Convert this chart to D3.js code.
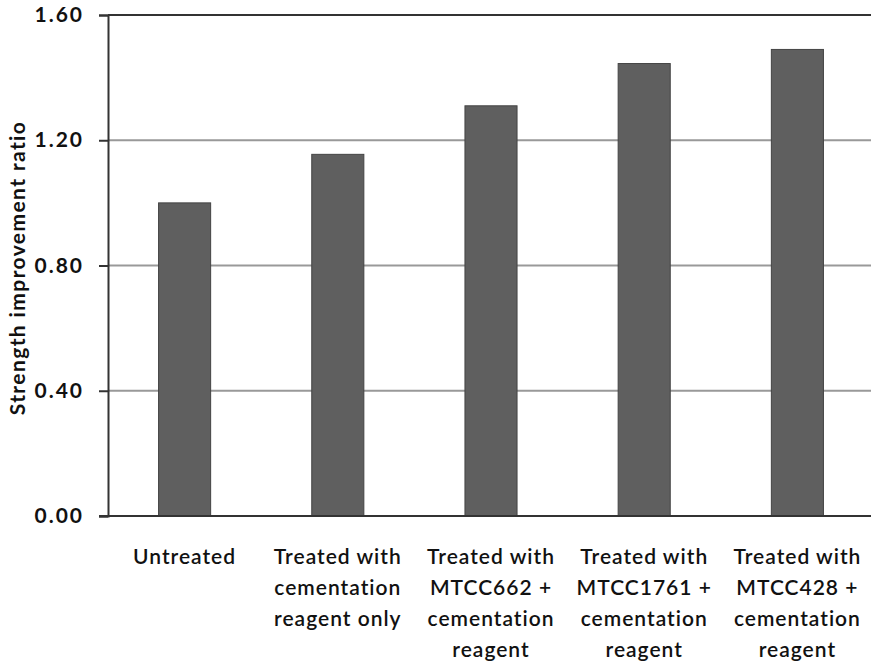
<!DOCTYPE html>
<html>
<head>
<meta charset="utf-8">
<script src="https://d3js.org/d3.v7.min.js"></script>
<style>
  body { margin: 0; background: #fff; }
  text { font-family: Lato, "Open Sans", sans-serif; fill: #111; }
</style>
</head>
<body>
<div id="chart"></div>
<script>
// chart data
var categories = [
  ["Untreated"],
  ["Treated with", "cementation", "reagent only"],
  ["Treated with", "MTCC662 +", "cementation", "reagent"],
  ["Treated with", "MTCC1761 +", "cementation", "reagent"],
  ["Treated with", "MTCC428 +", "cementation", "reagent"]
];
var values = [1.00, 1.155, 1.31, 1.445, 1.49];
var yTicks = [0, 0.4, 0.8, 1.2, 1.6];

var width = 871, height = 663;
var plotLeft = 108, plotRight = 874, plotTop = 15, plotBottom = 516;

var svg = d3.select("#chart").append("svg")
  .attr("width", width)
  .attr("height", height);

var x = d3.scaleBand()
  .domain(d3.range(values.length))
  .range([plotLeft, plotRight])
  .paddingInner(0.66)
  .paddingOuter(0.33);

var y = d3.scaleLinear()
  .domain([0, 1.6])
  .range([plotBottom, plotTop]);

// gridlines
svg.append("g")
  .selectAll("line")
  .data(yTicks.slice(1, -1))
  .enter().append("line")
  .attr("x1", plotLeft).attr("x2", width)
  .attr("y1", function(d) { return y(d); })
  .attr("y2", function(d) { return y(d); })
  .attr("stroke", "#999")
  .attr("stroke-width", 2);

// top border
svg.append("line")
  .attr("x1", plotLeft).attr("x2", width)
  .attr("y1", y(1.6)).attr("y2", y(1.6))
  .attr("stroke", "#333").attr("stroke-width", 2);

// bars
svg.append("g")
  .selectAll("rect")
  .data(values)
  .enter().append("rect")
  .attr("x", function(d, i) { return x(i); })
  .attr("width", x.bandwidth())
  .attr("y", function(d) { return y(d); })
  .attr("height", function(d) { return y(0) - y(d); })
  .attr("fill", "#5f5f5f")
  .attr("stroke", "#444")
  .attr("stroke-width", 1);

// y axis
var yAxis = svg.append("g")
  .attr("transform", "translate(" + plotLeft + ",0)")
  .call(d3.axisLeft(y).tickValues(yTicks).tickFormat(d3.format(".2f")).tickSize(9).tickPadding(15));
yAxis.select(".domain").attr("stroke", "#333").attr("stroke-width", 2);
yAxis.selectAll(".tick line").attr("stroke", "#333").attr("stroke-width", 2);
yAxis.selectAll("text")
  .style("font-size", "21px")
  .style("font-weight", "bold")
  .style("letter-spacing", "2px")
  .style("font-family", "Lato, sans-serif")
  .attr("fill", "#111");

// x axis baseline
svg.append("line")
  .attr("x1", plotLeft - 9).attr("x2", width)
  .attr("y1", y(0)).attr("y2", y(0))
  .attr("stroke", "#333").attr("stroke-width", 2);

// category labels
var labels = svg.append("g")
  .selectAll("text")
  .data(categories)
  .enter().append("text")
  .attr("text-anchor", "middle")
  .attr("x", function(d, i) { return x(i) + x.bandwidth() / 2; })
  .attr("y", 564)
  .style("font-size", "21px")
  .style("letter-spacing", "1px")
  .style("font-weight", "600");

labels.selectAll("tspan")
  .data(function(d) { return d; })
  .enter().append("tspan")
  .attr("x", function() { return d3.select(this.parentNode).attr("x"); })
  .attr("dy", function(d, i) { return i === 0 ? 0 : 31; })
  .text(function(d) { return d; });

// y axis title
svg.append("text")
  .attr("transform", "translate(25," + 268 + ") rotate(-90)")
  .attr("text-anchor", "middle")
  .style("font-size", "21px")
  .style("letter-spacing", "1.4px")
  .style("font-weight", "bold")
  .text("Strength improvement ratio");
</script>
</body>
</html>
